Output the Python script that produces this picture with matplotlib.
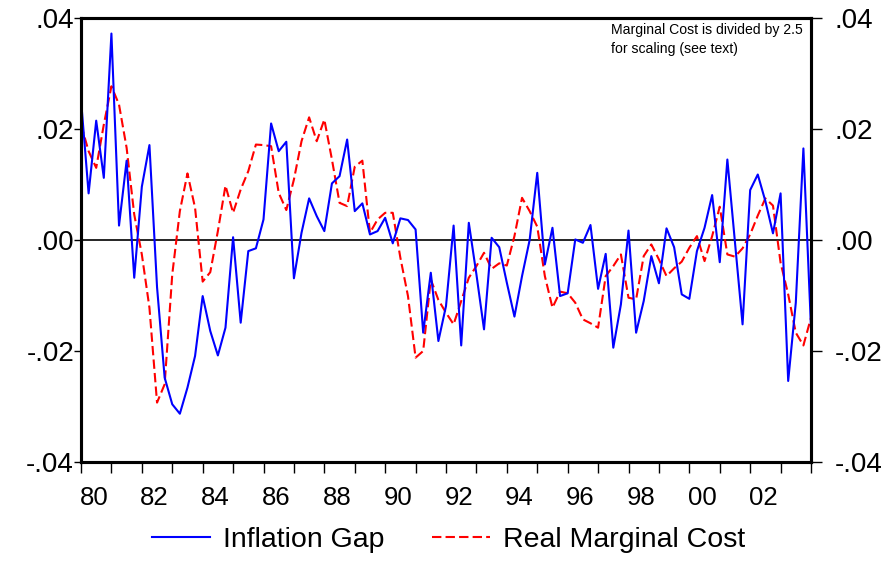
import matplotlib
matplotlib.use("Agg")
import matplotlib.pyplot as plt
import numpy as np

plt.rcParams['font.family'] = ['Liberation Sans', 'DejaVu Sans']

start_year = 1980
inflation_gap = [
    0.0253, 0.0084, 0.0215, 0.0112, 0.0372, 0.0026, 0.0143, -0.0068,
    0.0096, 0.0171, -0.0085, -0.0248, -0.0296, -0.0313, -0.0266, -0.0209,
    -0.0101, -0.0164, -0.0208, -0.0158, 0.0005, -0.0149, -0.0020, -0.0015,
    0.0037, 0.0210, 0.0160, 0.0177, -0.0069, 0.0013, 0.0075, 0.0043,
    0.0016, 0.0102, 0.0115, 0.0181, 0.0052, 0.0066, 0.0010, 0.0016,
    0.0040, -0.0006, 0.0039, 0.0036, 0.0019, -0.0167, -0.0059, -0.0182,
    -0.0119, 0.0026, -0.0190, 0.0031, -0.0062, -0.0161, 0.0004, -0.0013,
    -0.0077, -0.0138, -0.0065, 0.0000, 0.0121, -0.0044, 0.0022, -0.0101,
    -0.0096, 0.0001, -0.0005, 0.0027, -0.0088, -0.0025, -0.0194, -0.0116,
    0.0017, -0.0167, -0.0110, -0.0029, -0.0078, 0.0021, -0.0013, -0.0098,
    -0.0106, -0.0020, 0.0022, 0.0081, -0.0040, 0.0145, -0.0004, -0.0152,
    0.0090, 0.0118, 0.0070, 0.0012, 0.0084, -0.0254, -0.0113, 0.0165,
    -0.0158,
]
real_marginal_cost = [
    0.0208, 0.0160, 0.0130, 0.0208, 0.0277, 0.0244, 0.0166, 0.0046,
    -0.0026, -0.0122, -0.0293, -0.0260, -0.0062, 0.0052, 0.0120, 0.0058,
    -0.0075, -0.0058, 0.0016, 0.0098, 0.0049, 0.0091, 0.0124, 0.0172,
    0.0171, 0.0169, 0.0085, 0.0054, 0.0109, 0.0178, 0.0221, 0.0178,
    0.0217, 0.0145, 0.0067, 0.0061, 0.0132, 0.0143, 0.0013, 0.0037,
    0.0049, 0.0049, -0.0032, -0.0101, -0.0212, -0.0200, -0.0071, -0.0108,
    -0.0131, -0.0152, -0.0110, -0.0068, -0.0047, -0.0023, -0.0052, -0.0042,
    -0.0046, 0.0007, 0.0076, 0.0052, 0.0024, -0.0065, -0.0122, -0.0093,
    -0.0096, -0.0113, -0.0143, -0.0150, -0.0158, -0.0065, -0.0047, -0.0026,
    -0.0104, -0.0107, -0.0029, -0.0008, -0.0035, -0.0065, -0.0051, -0.0039,
    -0.0014, 0.0007, -0.0038, 0.0007, 0.0060, -0.0026, -0.0030, -0.0015,
    0.0010, 0.0044, 0.0075, 0.0062, -0.0041, -0.0098, -0.0167, -0.0190,
    -0.0140,
]
y_ticks = [-0.04, -0.02, 0.0, 0.02, 0.04]
y_tick_labels = ['-.04', '-.02', '.00', '.02', '.04']
label_years = list(range(1980, 2003, 2))
x_tick_labels = ['80', '82', '84', '86', '88', '90', '92', '94', '96', '98', '00', '02']
series_names = ['Inflation Gap', 'Real Marginal Cost']
note = 'Marginal Cost is divided by 2.5\nfor scaling (see text)'

x = start_year + np.arange(len(inflation_gap)) / 4.0

fig = plt.figure(figsize=(8.88, 5.62), dpi=100)
ax = fig.add_axes([81 / 888, 1 - 462 / 562, 730 / 888, 444 / 562])

ax.axhline(0, color='black', lw=1.2, zorder=1)
ax.plot(x, inflation_gap, color='#0000ff', lw=1.5, label=series_names[0], zorder=3)
ax.plot(x, real_marginal_cost, color='#ff0000', lw=1.5, ls=(0, (4.5, 2)),
        label=series_names[1], zorder=2)

ax.set_xlim(1980, 2004)
ax.set_ylim(-0.04, 0.04)

ax.set_yticks(y_ticks)
ax.set_yticklabels(y_tick_labels)
ax.tick_params(axis='y', which='major', direction='out', length=5, width=1,
               labelsize=20, left=True, right=False, labelleft=True,
               labelright=False, pad=0)

ax2 = ax.twinx()
ax2.set_ylim(-0.04, 0.04)
ax2.set_yticks(y_ticks)
ax2.set_yticklabels(y_tick_labels)
ax2.tick_params(axis='y', which='major', direction='out', length=8, width=1,
                labelsize=20, pad=9)

ax.set_xticks(np.arange(1980, 2005, 1))
ax.set_xticklabels([])
ax.tick_params(axis='x', which='major', direction='out', length=8, width=1)
ax.set_xticks([y + 0.42 for y in label_years], minor=True)
ax.set_xticklabels(x_tick_labels, minor=True)
ax.tick_params(axis='x', which='minor', length=0, labelsize=18.5, pad=17)

for a in (ax, ax2):
    for s in a.spines.values():
        s.set_linewidth(2.2)

ax.text(0.726, 0.988, note, transform=ax.transAxes, ha='left', va='top',
        fontsize=10.1, linespacing=1.45)

fig.legend(loc='center', bbox_to_anchor=(0.505, 0.039), ncol=2, frameon=False,
           fontsize=20.5, handlelength=2.05, columnspacing=1.65, handletextpad=0.45)

fig.savefig('out.png', dpi=100, facecolor='white')
